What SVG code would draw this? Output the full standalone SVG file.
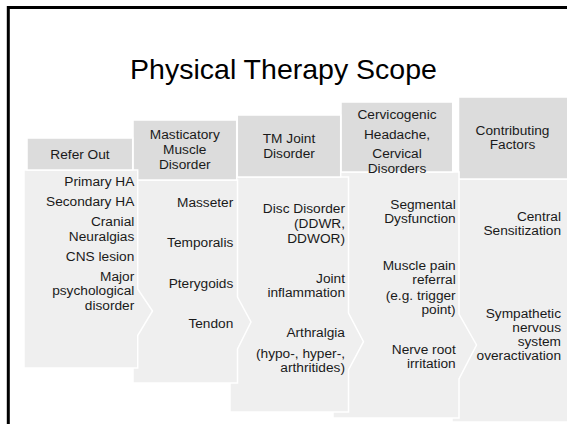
<svg xmlns="http://www.w3.org/2000/svg" width="567" height="424" viewBox="0 0 567 424">
<style>
.hd{fill:#dcdcdc;stroke:#ffffff;stroke-width:1.5}
.bd{fill:#efefef;stroke:#ffffff;stroke-width:1.5}
text{font-family:"Liberation Sans",Arial,sans-serif;font-size:13.7px;fill:#1a1a1a}
.r{text-anchor:end}
.c{text-anchor:middle}
.title{font-size:28.5px;fill:#000}
</style>
<rect width="567" height="424" fill="#ffffff"/>
<rect x="8.3" y="7.5" width="700" height="600" fill="none" stroke="#000" stroke-width="3"/>
<text class="title c" x="283.5" y="79">Physical Therapy Scope</text>

<g id="contributing-factors">
<path class="bd" d="M452,179 H570 V422 H452 Z"/>
<rect class="hd" x="458.5" y="97" width="112" height="82"/>
<text class="c" x="512.5" y="134.5">Contributing</text>
<text class="c" x="512.5" y="149">Factors</text>
<text class="r" x="561" y="221">Central</text>
<text class="r" x="561" y="235.3">Sensitization</text>
<text class="r" x="561" y="317.5">Sympathetic</text>
<text class="r" x="561" y="331.7">nervous</text>
<text class="r" x="561" y="345.8">system</text>
<text class="r" x="561" y="360">overactivation</text>
</g>

<g id="cervicogenic">
<path class="bd" d="M333,172 H459 V314 L476.5,345 L459,379 V418 H333 Z"/>
<rect class="hd" x="341" y="102" width="111.7" height="70"/>
<text class="c" x="397" y="118.5">Cervicogenic</text>
<text class="c" x="397" y="138.5">Headache,</text>
<text class="c" x="397" y="158.3">Cervical</text>
<text class="c" x="397" y="172.5">Disorders</text>
<text class="r" x="455.7" y="208.5">Segmental</text>
<text class="r" x="455.7" y="222.7">Dysfunction</text>
<text class="r" x="455.7" y="269.5">Muscle pain</text>
<text class="r" x="455.7" y="283.7">referral</text>
<text class="r" x="455.7" y="299.5">(e.g. trigger</text>
<text class="r" x="455.7" y="313.5">point)</text>
<text class="r" x="455.7" y="353.5">Nerve root</text>
<text class="r" x="455.7" y="367.7">irritation</text>
</g>

<g id="tm-joint">
<path class="bd" d="M230,177 H348.5 V313 L363.5,341.7 L348.5,370 V412 H230 Z"/>
<rect class="hd" x="237.3" y="115" width="103.4" height="62"/>
<text class="c" x="289" y="142.7">TM Joint</text>
<text class="c" x="289" y="157.7">Disorder</text>
<text class="r" x="345" y="213.3">Disc Disorder</text>
<text class="r" x="345" y="228">(DDWR,</text>
<text class="r" x="345" y="242.7">DDWOR)</text>
<text class="r" x="345" y="282.5">Joint</text>
<text class="r" x="345" y="296.9">inflammation</text>
<text class="r" x="345" y="336.7">Arthralgia</text>
<text class="r" x="345" y="358">(hypo-, hyper-,</text>
<text class="r" x="345" y="372.3">arthritides)</text>
</g>

<g id="masticatory">
<path class="bd" d="M133,180 H237.5 V297 L251,322 L237.5,349 V383 H133 Z"/>
<rect class="hd" x="133" y="120" width="103.7" height="60"/>
<text class="c" x="184.8" y="139.3">Masticatory</text>
<text class="c" x="184.8" y="154">Muscle</text>
<text class="c" x="184.8" y="168.5">Disorder</text>
<text class="r" x="233.3" y="206.7">Masseter</text>
<text class="r" x="233.3" y="247.3">Temporalis</text>
<text class="r" x="233.3" y="287.5">Pterygoids</text>
<text class="r" x="233.3" y="328.3">Tendon</text>
</g>

<g id="refer-out">
<path class="bd" d="M24,170 H137.7 V289 L152.5,311 L137.7,335.5 V368 H24 Z"/>
<rect class="hd" x="27" y="138" width="105.7" height="32"/>
<text class="c" x="80" y="159">Refer Out</text>
<text class="r" x="134.3" y="186">Primary HA</text>
<text class="r" x="134.3" y="205.7">Secondary HA</text>
<text class="r" x="134.3" y="226.3">Cranial</text>
<text class="r" x="134.3" y="240.6">Neuralgias</text>
<text class="r" x="134.3" y="260.7">CNS lesion</text>
<text class="r" x="134.3" y="281">Major</text>
<text class="r" x="134.3" y="295.4">psychological</text>
<text class="r" x="134.3" y="309.8">disorder</text>
</g>
</svg>
